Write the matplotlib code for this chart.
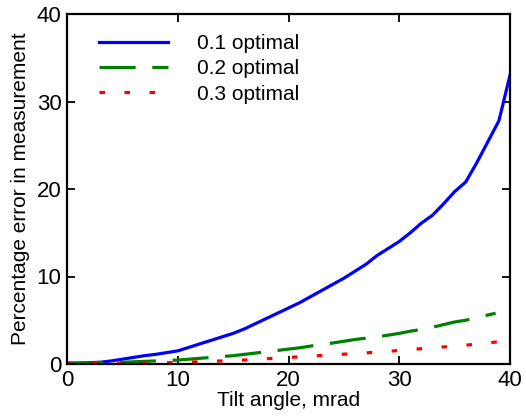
import matplotlib
matplotlib.use("Agg")
import matplotlib.pyplot as plt

plt.rcParams['font.family'] = ['Liberation Sans', 'DejaVu Sans']

x_blue = list(range(0, 41))
y_blue = [0.1, 0.1, 0.15, 0.2, 0.35, 0.55, 0.75, 0.95, 1.1, 1.3, 1.5, 1.9, 2.3, 2.7, 3.1,
          3.5, 4.0, 4.6, 5.2, 5.8, 6.4, 7.0, 7.7, 8.4, 9.1, 9.8, 10.6, 11.4, 12.4, 13.2,
          14.0, 15.0, 16.1, 17.0, 18.3, 19.7, 20.8, 23.0, 25.4, 27.8, 33.0]

x_green = list(range(0, 39)) + [38.7]
y_green = [0.1, 0.1, 0.1, 0.15, 0.15, 0.2, 0.25, 0.3, 0.35, 0.4, 0.45, 0.55, 0.65, 0.75,
           0.85, 0.95, 1.1, 1.25, 1.4, 1.55, 1.7, 1.85, 2.05, 2.25, 2.4, 2.6, 2.8, 2.95,
           3.1, 3.3, 3.5, 3.75, 3.95, 4.2, 4.5, 4.8, 5.0, 5.3, 5.6, 5.8]

x_red = list(range(0, 39, 2)) + [39.7]
y_red = [0.0, 0.02, 0.05, 0.08, 0.12, 0.17, 0.25, 0.35, 0.45, 0.6, 0.75, 0.9, 1.05, 1.2,
         1.35, 1.55, 1.75, 1.95, 2.15, 2.4, 2.65]

labels = ["0.1 optimal", "0.2 optimal", "0.3 optimal"]
ticks = [0, 10, 20, 30, 40]

fig = plt.figure(figsize=(5.26, 4.18), dpi=100)
ax = fig.add_axes([67/526, 1 - 364/418, (510-67)/526, (364-14)/418])

lw = 2.3
ax.plot(x_blue, y_blue, color='#0000ff', lw=lw, label=labels[0])
l2, = ax.plot(x_green, y_green, color='#008000', lw=lw, label=labels[1])
l2.set_dashes([26/lw, 12/lw])
l3, = ax.plot(x_red, y_red, color='#ff0000', lw=lw, label=labels[2])
l3.set_dashes([4/lw, 14/lw])

ax.set_xlim(0, 40)
ax.set_ylim(0, 40)
ax.set_xticks(ticks)
ax.set_yticks(ticks)
ax.tick_params(direction='in', length=6, width=1.3, labelsize=16, top=True, right=True, pad=4)
for s in ax.spines.values():
    s.set_linewidth(1.6)

ax.set_xlabel("Tilt angle, mrad", fontsize=15, labelpad=0)
ax.set_ylabel("Percentage error in measurement", fontsize=15, labelpad=5)

ax.legend(loc='upper left', frameon=False, fontsize=15, handlelength=3.3,
          handletextpad=1.4, labelspacing=0.3, bbox_to_anchor=(0.053, 0.966),
          borderaxespad=0.0)

fig.savefig("out.png", dpi=100)
